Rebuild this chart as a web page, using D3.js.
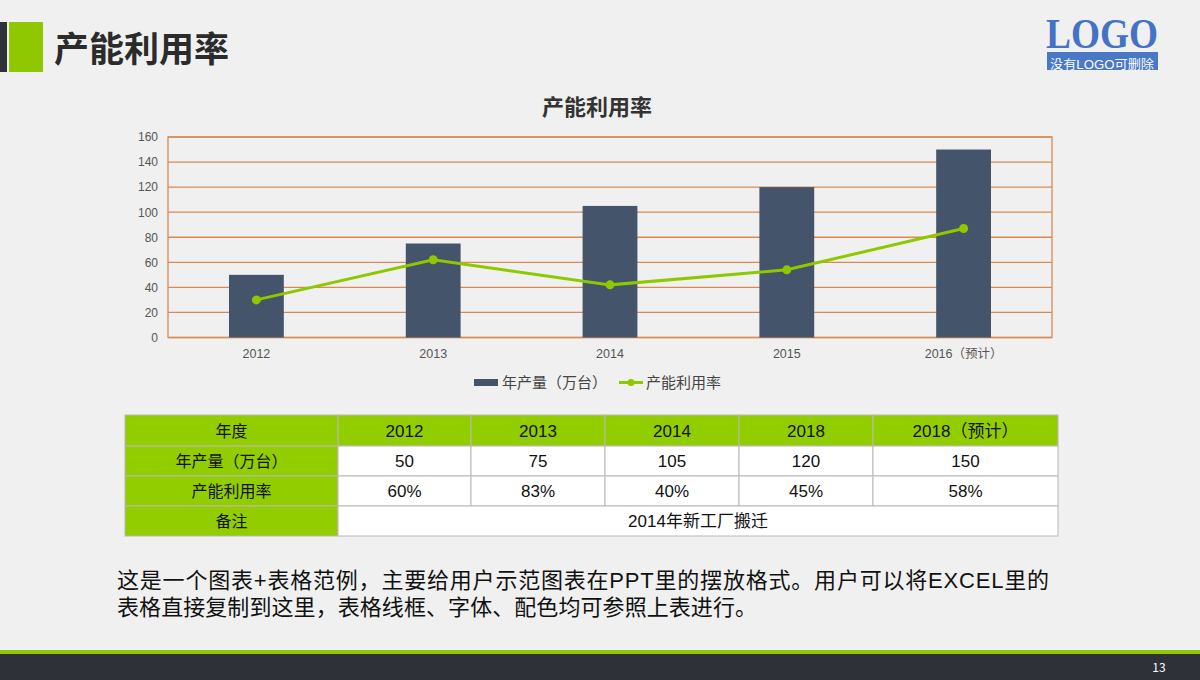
<!DOCTYPE html>
<html><head><meta charset="utf-8">
<script src="https://cdn.jsdelivr.net/npm/d3@7"></script>
<style>
html,body{margin:0;padding:0;background:#f0f0f0;}
svg{display:block;font-family:"Noto Sans CJK SC","Microsoft YaHei",sans-serif;}
</style></head><body>
<svg id="c" width="1200" height="680"></svg>
<script>
const categories = ["2012","2013","2014","2015","2016（预计）"];
const production = [50, 75, 105, 120, 150];
const utilization = [30, 62, 42, 54, 87];
const yTicks = [0,20,40,60,80,100,120,140,160];
const seriesNames = ["年产量（万台）","产能利用率"];
const tableHeader = ["年度","2012","2013","2014","2018","2018（预计）"];
const tableRow1 = ["年产量（万台）","50","75","105","120","150"];
const tableRow2 = ["产能利用率","60%","83%","40%","45%","58%"];
const tableRow3 = ["备注","2014年新工厂搬迁"];
const paragraph = ["这是一个图表+表格范例，主要给用户示范图表在PPT里的摆放格式。用户可以将EXCEL里的","表格直接复制到这里，表格线框、字体、配色均可参照上表进行。"];
const paragraphWidths = [932, 640];

const svg = d3.select("#c");
const W=1200,H=680;
svg.append("rect").attr("width",W).attr("height",H).attr("fill","#f0f0f0");

// header
svg.append("rect").attr("x",0).attr("y",22).attr("width",7).attr("height",50).attr("fill","#2e3138");
svg.append("rect").attr("x",9).attr("y",22).attr("width",34).attr("height",50).attr("fill","#8fc800");
svg.append("text").attr("x",54).attr("y",62).attr("font-size",35).attr("font-weight","bold").attr("fill","#2b2b2b").text("产能利用率");

// logo
svg.append("text").attr("x",1102).attr("y",48).attr("text-anchor","middle").attr("font-family","'Liberation Serif','DejaVu Serif',serif")
  .attr("font-weight","bold").attr("font-size",42).attr("fill","#4472c4").attr("textLength",112).attr("lengthAdjust","spacingAndGlyphs").text("LOGO");
svg.append("rect").attr("x",1047).attr("y",52).attr("width",111).attr("height",18).attr("fill","#4a78c9");
svg.append("text").attr("x",1102).attr("y",68.5).attr("text-anchor","middle").attr("font-size",12)
  .attr("font-family","'Liberation Sans','Noto Sans CJK SC',sans-serif").attr("fill","#fff")
  .attr("textLength",104).attr("lengthAdjust","spacingAndGlyphs").text("没有LOGO可删除");

// chart
const m={l:168,r:1052,t:137,b:337.5};
const x=d3.scaleBand().domain(categories).range([m.l,m.r]).paddingInner(0.69).paddingOuter(0.345);
const y=d3.scaleLinear().domain([0,160]).range([m.b,m.t]);
svg.append("text").attr("x",597).attr("y",115).attr("text-anchor","middle").attr("font-size",22).attr("font-weight","bold").attr("fill","#333").text("产能利用率");

const grid = svg.append("g");
grid.selectAll("line").data(yTicks).join("line")
  .attr("x1",m.l).attr("x2",m.r).attr("y1",d=>y(d)).attr("y2",d=>y(d))
  .attr("stroke","#d98a52").attr("stroke-width",1.3);
svg.append("rect").attr("x",m.l).attr("y",m.t).attr("width",m.r-m.l).attr("height",m.b-m.t)
  .attr("fill","none").attr("stroke","#d98a52").attr("stroke-width",1.3);

const yAxis = svg.append("g").attr("transform",`translate(${m.l},0)`)
  .call(d3.axisLeft(y).tickValues(yTicks).tickSize(0).tickPadding(10));
yAxis.select(".domain").remove();
yAxis.selectAll("text").attr("font-size",12).attr("fill","#555").attr("font-family","'Liberation Sans',Arial,sans-serif");

const xAxis = svg.append("g").attr("transform",`translate(0,${m.b})`)
  .call(d3.axisBottom(x).tickSize(0).tickPadding(12));
xAxis.select(".domain").remove();
xAxis.selectAll("text").attr("font-size",12.5).attr("fill","#555").attr("font-family","'Liberation Sans','Noto Sans CJK SC',sans-serif");

svg.append("g").selectAll("rect").data(production).join("rect")
  .attr("x",(d,i)=>x(categories[i])).attr("width",x.bandwidth())
  .attr("y",d=>y(d)).attr("height",d=>y(0)-y(d)).attr("fill","#44546a");

const line=d3.line().x((d,i)=>x(categories[i])+x.bandwidth()/2).y(d=>y(d));
svg.append("path").datum(utilization).attr("d",line).attr("fill","none").attr("stroke","#8fc800").attr("stroke-width",3);
svg.append("g").selectAll("circle").data(utilization).join("circle")
  .attr("cx",(d,i)=>x(categories[i])+x.bandwidth()/2).attr("cy",d=>y(d)).attr("r",4.5).attr("fill","#8fc800");

// legend
const lg=svg.append("g");
lg.append("rect").attr("x",474).attr("y",379).attr("width",24).attr("height",7).attr("fill","#44546a");
lg.append("text").attr("x",502).attr("y",388).attr("font-size",15).attr("fill","#444").text(seriesNames[0]);
lg.append("line").attr("x1",619).attr("x2",643).attr("y1",382.5).attr("y2",382.5).attr("stroke","#8fc800").attr("stroke-width",3);
lg.append("circle").attr("cx",631).attr("cy",382.5).attr("r",3.5).attr("fill","#8fc800");
lg.append("text").attr("x",646).attr("y",388).attr("font-size",15).attr("fill","#444").text(seriesNames[1]);

// table
const colX=[125,338,471,605,739,873,1058];
const rowY=[415,446,476,506,536];
const tg=svg.append("g");
const rows=[tableHeader,tableRow1,tableRow2];
const green="#92cd00";
const tfont="'Liberation Sans','Noto Sans CJK SC',sans-serif";
rows.forEach((r,ri)=>{
  r.forEach((t,ci)=>{
    const fill = (ri===0||ci===0)?green:"#ffffff";
    tg.append("rect").attr("x",colX[ci]).attr("y",rowY[ri]).attr("width",colX[ci+1]-colX[ci]).attr("height",rowY[ri+1]-rowY[ri])
      .attr("fill",fill).attr("stroke","#b8b8b8").attr("stroke-width",1);
    tg.append("text").attr("x",(colX[ci]+colX[ci+1])/2).attr("y",(rowY[ri]+rowY[ri+1])/2+6)
      .attr("text-anchor","middle").attr("font-size",ci===0?16:17).attr("fill","#111")
      .attr("font-family",tfont).text(t);
  });
});
tg.append("rect").attr("x",colX[0]).attr("y",rowY[3]).attr("width",colX[1]-colX[0]).attr("height",rowY[4]-rowY[3])
  .attr("fill",green).attr("stroke","#b8b8b8");
tg.append("text").attr("x",(colX[0]+colX[1])/2).attr("y",(rowY[3]+rowY[4])/2+6).attr("text-anchor","middle").attr("font-size",16).attr("fill","#111").text(tableRow3[0]);
tg.append("rect").attr("x",colX[1]).attr("y",rowY[3]).attr("width",colX[6]-colX[1]).attr("height",rowY[4]-rowY[3])
  .attr("fill","#fff").attr("stroke","#b8b8b8");
tg.append("text").attr("x",(colX[1]+colX[6])/2).attr("y",(rowY[3]+rowY[4])/2+6).attr("text-anchor","middle").attr("font-size",17).attr("fill","#111")
  .attr("font-family",tfont).text(tableRow3[1]);

// paragraph
paragraph.forEach((t,i)=>{
  svg.append("text").attr("x",117).attr("y",588+i*27).attr("font-size",22)
    .attr("font-family","'Liberation Sans','Noto Sans CJK SC',sans-serif")
    .attr("textLength",paragraphWidths[i]).attr("lengthAdjust","spacing")
    .attr("fill","#111").text(t);
});

// footer
svg.append("rect").attr("x",0).attr("y",650).attr("width",W).attr("height",4).attr("fill","#8fc800");
svg.append("rect").attr("x",0).attr("y",654).attr("width",W).attr("height",26).attr("fill","#2e3138");
svg.append("text").attr("x",1159).attr("y",672).attr("text-anchor","middle").attr("font-size",12).attr("fill","#fff").text("13");
</script>
</body></html>
